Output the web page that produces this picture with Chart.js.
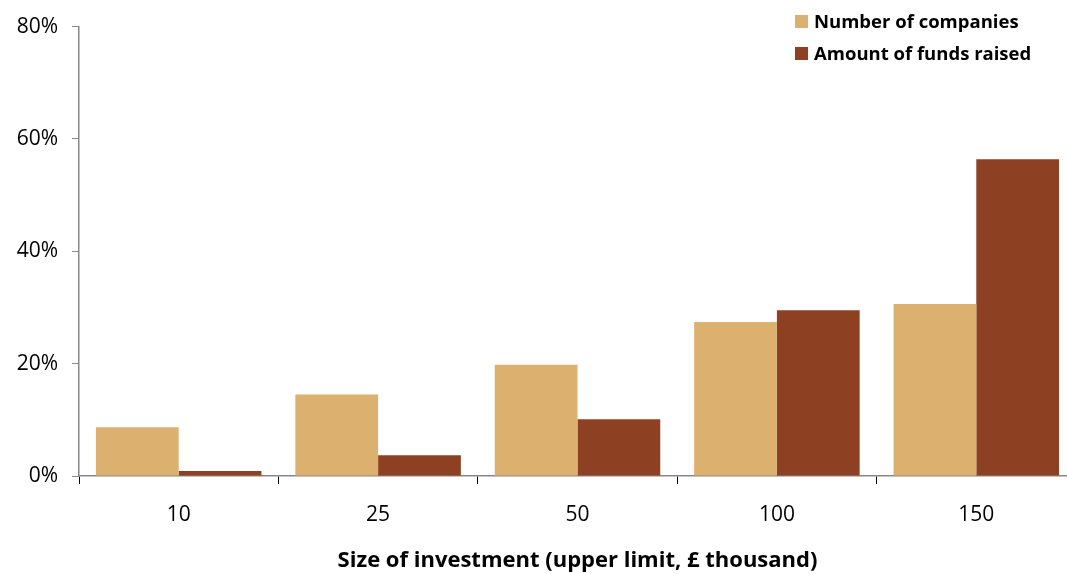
<!DOCTYPE html>
<html>
<head>
<meta charset="utf-8">
<script src="https://cdn.jsdelivr.net/npm/chart.js@4/dist/chart.umd.min.js"></script>
<style>
  html, body { margin: 0; padding: 0; background: #fff; overflow: hidden; }
  #wrap { width: 1076px; height: 574px; }
</style>
</head>
<body>
<div id="wrap"><canvas id="investChart" width="1076" height="574"></canvas></div>
<script>
// Data
const categories = ['10', '25', '50', '100', '150'];
const numberOfCompanies = [8.7, 14.5, 19.8, 27.4, 30.6];
const amountOfFunds = [0.9, 3.7, 10.1, 29.5, 56.4];
const yTicks = [0, 20, 40, 60, 80];

const FONT = "'Open Sans', 'Liberation Sans', sans-serif";

// Legend stacked in the top-right corner of the plot
const cornerLegend = {
  id: 'cornerLegend',
  afterDraw(chart) {
    const c = chart.ctx;
    c.save();
    c.font = `bold 18.5px ${FONT}`;
    c.textBaseline = 'middle';
    chart.data.datasets.forEach((ds, i) => {
      const y = 22 + i * 32;
      c.fillStyle = ds.backgroundColor;
      c.fillRect(795, y - 7, 13, 13);
      c.fillStyle = '#000';
      c.fillText(ds.label, 814, y + 1);
    });
    c.restore();
  }
};

const ctx = document.getElementById('investChart').getContext('2d');
const investChart = new Chart(ctx, {
  type: 'bar',
  data: {
    labels: categories,
    datasets: [{
      label: 'Number of companies',
      data: numberOfCompanies,
      backgroundColor: '#dcb06f',
      categoryPercentage: 0.83,
      barPercentage: 1.0
    }, {
      label: 'Amount of funds raised',
      data: amountOfFunds,
      backgroundColor: '#8e4023',
      categoryPercentage: 0.83,
      barPercentage: 1.0
    }]
  },
  options: {
    responsive: false,
    animation: false,
    layout: { padding: { top: 23, left: 0, right: 0, bottom: 0 } },
    plugins: {
      legend: { display: false },
      tooltip: { enabled: false }
    },
    scales: {
      x: {
        grid: { drawOnChartArea: false, tickLength: 8, color: '#000', offset: true },
        border: { color: '#888', width: 1.5 },
        ticks: { color: '#000', font: { family: FONT, size: 21 }, padding: 18 },
        title: {
          display: true,
          text: 'Size of investment (upper limit, £ thousand)',
          color: '#000',
          font: { family: FONT, size: 22, weight: 'bold' },
          padding: { top: 4, bottom: 0 }
        },
        afterFit(scale) { scale.height = 98; }
      },
      y: {
        min: 0,
        max: 80,
        afterBuildTicks(scale) { scale.ticks = yTicks.map(v => ({ value: v })); },
        grid: { drawOnChartArea: false, tickLength: 7, color: '#888' },
        border: { color: '#888', width: 1.5 },
        ticks: {
          color: '#000',
          font: { family: FONT, size: 21 },
          padding: 14,
          callback: v => v + '%'
        },
        afterFit(scale) { scale.width = 79; }
      }
    }
  },
  plugins: [cornerLegend]
});
</script>
</body>
</html>
